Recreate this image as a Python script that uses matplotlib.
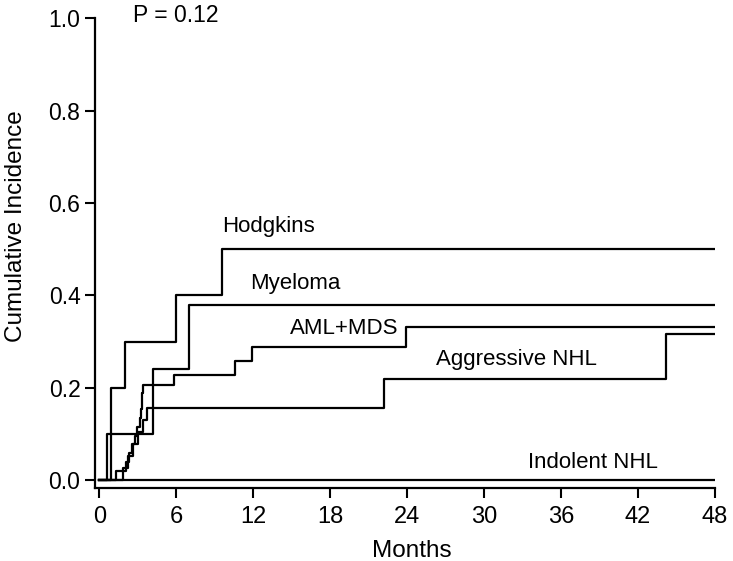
import numpy as np
import matplotlib.pyplot as plt

# Cumulative incidence by disease group
hodgkins_t = [0, 0.89, 2.0, 5.98, 9.59, 48]
hodgkins_v = [0, 0.20, 0.30, 0.40, 0.50, 0.50]

myeloma_t = [0, 0.62, 4.16, 7.0, 48]
myeloma_v = [0, 0.10, 0.24, 0.38, 0.38]

aml_t = [0, 1.30, 2.05, 2.35, 2.55, 2.75, 2.95, 3.15, 3.25, 3.30, 3.34, 3.38,
         5.82, 10.6, 11.9, 23.9, 48]
aml_v = [0, 0.019, 0.038, 0.058, 0.077, 0.096, 0.115, 0.135, 0.154, 0.173, 0.188, 0.206,
         0.228, 0.258, 0.288, 0.331, 0.331]

aggr_t = [0, 1.87, 2.25, 2.65, 3.05, 3.45, 3.74, 22.2, 44.2, 48]
aggr_v = [0, 0.026, 0.052, 0.077, 0.103, 0.129, 0.155, 0.219, 0.317, 0.317]

indolent_t = [0, 48]
indolent_v = [0, 0]

labels = ["Hodgkins", "Myeloma", "AML+MDS", "Aggressive NHL", "Indolent NHL"]
label_pos = [(9.57, 0.55), (11.75, 0.425), (14.86, 0.329), (26.25, 0.262), (33.4, 0.039)]

xticks = [0, 6, 12, 18, 24, 30, 36, 42, 48]
yticks = [0.0, 0.2, 0.4, 0.6, 0.8, 1.0]

font = ['Liberation Sans', 'DejaVu Sans']

fig = plt.figure(figsize=(7.33, 5.61), dpi=100)
ax = fig.add_axes([0.1296, 0.1301, 0.8458, 0.8370])

for t, v in [(hodgkins_t, hodgkins_v), (myeloma_t, myeloma_v), (aml_t, aml_v),
             (aggr_t, aggr_v), (indolent_t, indolent_v)]:
    ax.step(t, v, where='post', color='black', lw=1.6)

for lab, (x, y) in zip(labels, label_pos):
    ax.text(x, y, lab, fontsize=16, family=font, va='center', ha='left')

ax.text(2.63, 1.006, "P = 0.12", fontsize=16.5, family=font, va='center', ha='left')

ax.set_xlim(-0.33, 48)
ax.set_ylim(-0.0173, 1.0)
ax.set_xticks(xticks)
ax.set_yticks(yticks)
ax.set_xticklabels([str(x) for x in xticks], family=font, fontsize=17)
ax.set_yticklabels(["%.1f" % y for y in yticks], family=font, fontsize=16.5)
ax.tick_params(direction='out', length=7, width=1.5)
ax.tick_params(axis='x', pad=6)
ax.tick_params(axis='y', pad=3.5)

for s in ['top', 'right']:
    ax.spines[s].set_visible(False)
for s in ['left', 'bottom']:
    ax.spines[s].set_linewidth(1.6)

fig.text(412 / 733, 1 - 551 / 561, "Months", family=font, fontsize=17.5,
         ha='center', va='center')
fig.text(16 / 733, 1 - 226 / 561, "Cumulative Incidence", family=font, fontsize=17.5,
         ha='center', va='center', rotation=90)

fig.savefig("out.png", dpi=100)
